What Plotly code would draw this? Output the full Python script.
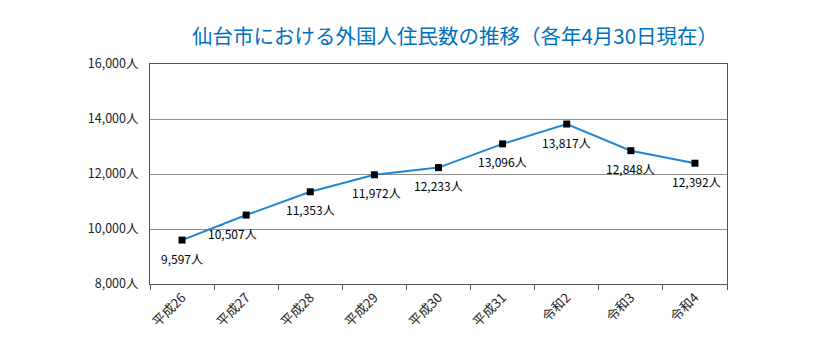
import plotly.graph_objects as go

# 仙台市の外国人住民数（各年4月30日現在）
years = ["平成26", "平成27", "平成28", "平成29", "平成30", "平成31", "令和2", "令和3", "令和4"]
residents = [9597, 10507, 11353, 11972, 12233, 13096, 13817, 12848, 12392]
label_dx = [0, -14, 0, 2, 0, 0, 0, 0, 2]
y_ticks = [8000, 10000, 12000, 14000, 16000]
y_tick_labels = [f"{v:,}人" for v in y_ticks]

FONT = "Noto Sans CJK JP"

fig = go.Figure()
fig.add_trace(go.Scatter(
    x=years,
    y=residents,
    mode="lines+markers",
    line=dict(color="#1f86d6", width=2),
    marker=dict(symbol="square", size=7, color="black"),
    hoverinfo="skip",
))

# 値ラベル（各点の下）
for yr, v, dx in zip(years, residents, label_dx):
    fig.add_annotation(
        x=yr, y=v, text=f"{v:,}人",
        showarrow=False, xshift=dx, yshift=-18,
        font=dict(family=FONT, size=12, color="black"),
    )

fig.update_layout(
    width=830,
    height=347,
    margin=dict(l=150, r=103, t=64, b=63),
    paper_bgcolor="white",
    plot_bgcolor="white",
    showlegend=False,
    title=dict(
        text="仙台市における外国人住民数の推移（各年4月30日現在）",
        font=dict(family=FONT, size=20.5, color="#0070c0"),
        x=455 / 830,
        xanchor="center",
        y=1 - 37 / 347,
        yanchor="middle",
    ),
    xaxis=dict(
        type="category",
        range=[-0.5, 8.5],
        tickson="boundaries",
        ticks="outside",
        ticklen=5,
        tickcolor="#555555",
        tickangle=-45,
        tickfont=dict(family=FONT, size=13, color="#222222"),
        showgrid=False,
        showline=True,
        linecolor="#555555",
        linewidth=1,
        mirror=True,
    ),
    yaxis=dict(
        range=[8000, 16000],
        tickvals=y_ticks,
        ticktext=y_tick_labels,
        tickfont=dict(family=FONT, size=12.5, color="#222222"),
        showgrid=True,
        gridcolor="#8c8c8c",
        gridwidth=1,
        showline=True,
        linecolor="#555555",
        linewidth=1,
        mirror=True,
        zeroline=False,
        ticks="",
        ticklabelstandoff=8,
    ),
)

fig.write_html("out.html")
